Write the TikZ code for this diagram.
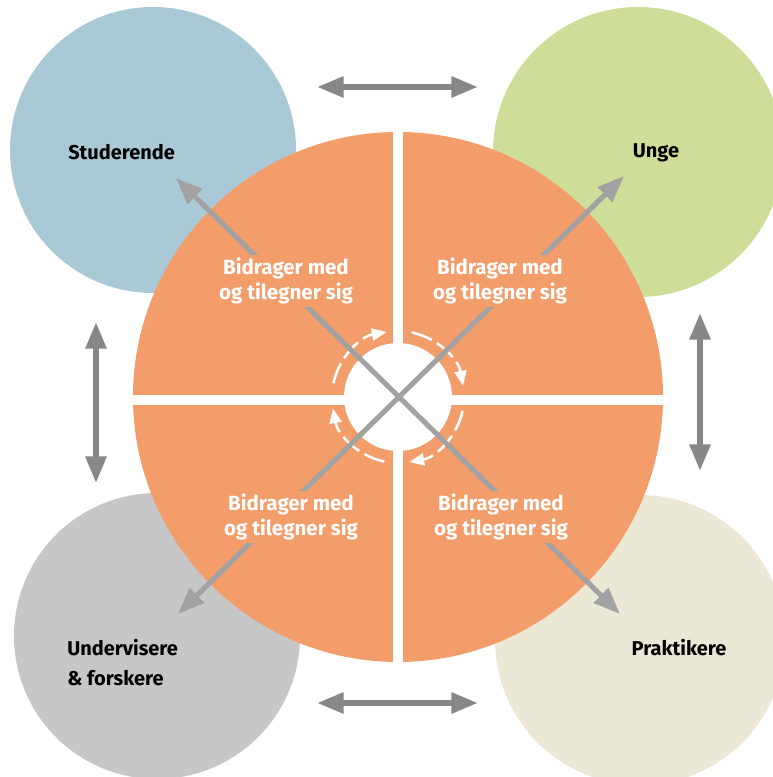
\documentclass[tikz,border=0pt]{standalone}
\usepackage{fontspec}
\setmainfont{Fira Sans}
\usetikzlibrary{arrows.meta,calc}
\definecolor{kjerne}{HTML}{F39D6B}
\definecolor{studblaa}{HTML}{A8C9D5}
\definecolor{ungegroenn}{HTML}{CEDD98}
\definecolor{undgraa}{HTML}{C7C7C7}
\definecolor{praksand}{HTML}{EBE9D5}
\definecolor{pilgraa}{HTML}{878787}
\definecolor{diaggraa}{HTML}{A2A2A2}
\tikzset{
  gruppe/.style={font=\fontsize{15}{22.5}\selectfont\bfseries,text=black,inner sep=0pt},
  bidrag/.style={font=\fontsize{15.4}{18.5}\selectfont\bfseries,text=white,fill=kjerne,
    align=center,inner sep=2pt},
  pil/.style={pilgraa,line width=4.5pt,{Triangle[length=20pt,width=15pt]}-{Triangle[length=20pt,width=15pt]}},
  diagonal/.style={diaggraa,line width=3.8pt,{Triangle[length=20pt,width=15pt]}-{Triangle[length=20pt,width=15pt]}},
  spalte/.style={white,line width=7.5pt},
  spinn/.style={white,line width=1.9pt,dash pattern=on 16pt off 4.5pt,-{Triangle[length=11pt,width=9pt]}},
}

\begin{document}
\begin{tikzpicture}[x=0.75pt,y=0.75pt]
\useasboundingbox (0,0) rectangle (773,-777);
\begin{scope}
\clip (0,0) rectangle (773,-777);
\fill[studblaa] (153,-150) circle[radius=143];
\fill[ungegroenn] (638,-152) circle[radius=145];
\fill[undgraa] (157,-636) circle[radius=143];
\fill[praksand] (640,-640) circle[radius=145];
\end{scope}
\coordinate (c) at (398,-397);
\fill[kjerne] (c) circle[radius=265];
\draw[spalte] (398,-132) -- (398,-662);
\draw[spalte] (133,-400) -- (663,-400);
\fill[white] (c) circle[radius=54];
\foreach \a in {90,0,-90,-180}
  \draw[spinn] ($(c)+(\a+78:66)$) arc[start angle=\a+78,end angle=\a+10,radius=66];

\coordinate (stud-tip) at (176,-178);
\coordinate (prak-tip) at (620,-614);
\coordinate (und-tip) at (178,-614);
\coordinate (unge-tip) at (624,-176);
\draw[diagonal] (stud-tip) -- (prak-tip);
\draw[diagonal] (und-tip) -- (unge-tip);

\foreach \n/\x/\y in {b1/286/281,b2/500/281,b3/291/517,b4/501/517}
  \node[bidrag] (\n) at (\x,-\y) {Bidrager med\\og tilegner sig};

\node[gruppe,anchor=west] (stud) at (68,-152) {Studerende};
\node[gruppe] (unge) at (656,-153) {Unge};
\node[gruppe,anchor=west,align=left] (und) at (67,-663) {Undervisere\\\& forskere};
\node[gruppe] (prak) at (679,-648) {Praktikere};

\foreach \n/\x/\y in {top-v/317/87,top-h/478/87,bunn-v/317/703,bunn-h/478/703,
  venstre-o/96/322,venstre-n/96/483,hoyre-o/700/313,hoyre-n/700/471}
  \coordinate (\n) at (\x,-\y);
\draw[pil] (top-v) -- (top-h);
\draw[pil] (bunn-v) -- (bunn-h);
\draw[pil] (venstre-o) -- (venstre-n);
\draw[pil] (hoyre-o) -- (hoyre-n);
\end{tikzpicture}
\end{document}
